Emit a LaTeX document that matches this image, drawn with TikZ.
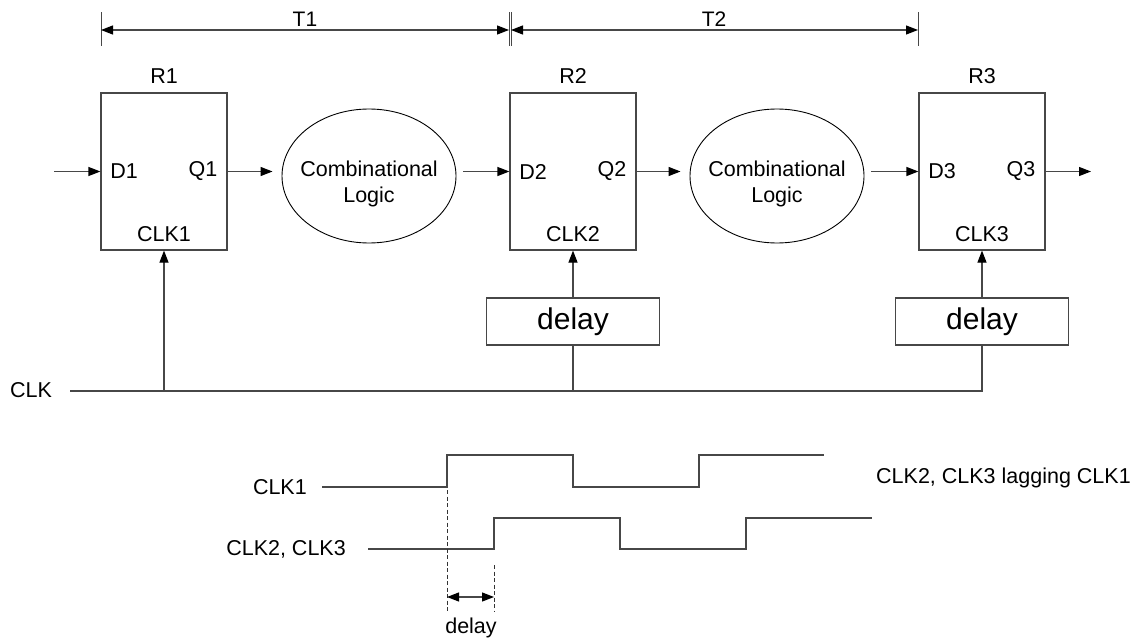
\documentclass[tikz,border=0pt]{standalone}
\usepackage{fontspec}
\setmainfont{Liberation Sans}
\usetikzlibrary{arrows.meta,shapes.geometric,calc}
\begin{document}
\begin{tikzpicture}[x=1pt,y=-1pt,
  every node/.style={font=\fontsize{21.5}{26}\selectfont, inner sep=0pt},
  ln/.style={draw=black!72, line width=1.2pt},
  tip/.tip={Triangle[length=12pt,width=9pt,color=black]},
  arr/.style={ln, -tip},
  dimarr/.style={ln, tip-tip},
  reg/.style={ln, rectangle, minimum width=126pt, minimum height=157pt},
  comb/.style={draw=black, line width=0.9pt, ellipse, minimum width=174pt, minimum height=134pt},
  dly/.style={ln, rectangle, minimum width=173pt, minimum height=47pt, font=\fontsize{30}{34}\selectfont},
  dashln/.style={draw=black!80, line width=1pt, dash pattern=on 4pt off 2.5pt},
  tfont/.style={font=\fontsize{21}{24}\selectfont}
]
\useasboundingbox (0,0) rectangle (1144,642);

% ---- timing dimension at top
\coordinate (t1a) at (101,30);
\coordinate (t1b) at (509,30);
\coordinate (t2a) at (511,30);
\coordinate (t2b) at (918,30);
\foreach \c in {t1a,t1b,t2a,t2b}{
  \draw[ln, line width=1pt] ([yshift=-16pt]\c) -- ([yshift=18pt]\c);
}
\draw[dimarr] (t1a) -- (t1b);
\draw[dimarr] (t2a) -- (t2b);
\node[tfont] (T1) at (305,19) {T1};
\node[tfont] (T2) at (714,19) {T2};

% ---- registers
\node[reg] (R1) at (164,171.5) {};
\node[reg] (R2) at (573,171.5) {};
\node[reg] (R3) at (982,171.5) {};
\foreach \r/\i in {R1/1,R2/2,R3/3}{
  \node (\r lab) at ($(\r.north)+(0,-16)$) {R\i};
  \node (\r d) at ($(\r.center)+(-40,0)$) {D\i};
  \node (\r q) at ($(\r.center)+(39,0)$) {Q\i};
  \node (\r c) at ($(\r.south)+(0,-17)$) {CLK\i};
}

% ---- combinational logic
\node[comb] (E1) at (369,176) {};
\node[comb] (E2) at (777,176) {};
\node[align=center] (E1t) at (369,184) {Combinational\\Logic};
\node[align=center] (E2t) at (777,184) {Combinational\\Logic};

% ---- data path
\coordinate (in) at (54,171.5);
\coordinate (out) at (1091,171.5);
\draw[arr] (in) -- (R1.west);
\draw[arr] (R1.east) -- ([xshift=-9pt]E1.west |- R1.east);
\draw[arr] ([xshift=7pt]E1.east |- R2.west) -- (R2.west);
\draw[arr] (R2.east) -- ([xshift=-9pt]E2.west |- R2.east);
\draw[arr] ([xshift=7pt]E2.east |- R3.west) -- (R3.west);
\draw[arr] (R3.east) -- (out);

% ---- clock distribution
\node[dly] (DL2) at (573,321.5) {delay};
\node[dly] (DL3) at (982,321.5) {delay};
\coordinate (clk) at (70,391);
\node[anchor=west] (clklab) at (10,390) {CLK};
\draw[ln] (clk) -- (DL3.south |- clk) -- (DL3.south);
\draw[ln] (DL2.south |- clk) -- (DL2.south);
\draw[arr] (R1.south |- clk) -- (R1.south);
\draw[arr] (DL2.north) -- (R2.south);
\draw[arr] (DL3.north) -- (R3.south);

% ---- waveforms
\node[anchor=east] (w1lab) at (307,487) {CLK1};
\node[anchor=east] (w2lab) at (346,549) {CLK2, CLK3};
\draw[ln, line width=1.1pt] (322,487) -- (447,487) -- (447,455) -- (573,455) -- (573,487)
   -- (699,487) -- (699,455) -- (824,455);
\draw[ln, line width=1.1pt] (368,549) -- (494,549) -- (494,518) -- (620,518) -- (620,549)
   -- (746,549) -- (746,518) -- (872,518);
\node[anchor=west] (lag) at (876,478) {CLK2, CLK3 lagging CLK1};

% ---- delay marker
\coordinate (da) at (447,597);
\coordinate (db) at (494,597);
\draw[dashln] (447,490) -- (447,612);
\draw[dashln] (494,565) -- (494,612);
\draw[dimarr] (da) -- (db);
\node (dlab) at (471,628) {delay};
\end{tikzpicture}
\end{document}
